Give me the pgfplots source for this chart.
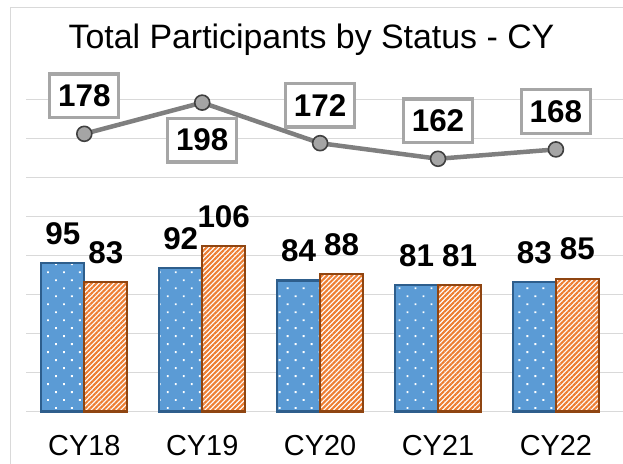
\documentclass[border=0pt]{standalone}
\usepackage{fontspec}
\setmainfont{Liberation Sans}
\usepackage{pgfplots}
\pgfplotsset{compat=1.18}
\usetikzlibrary{patterns.meta}
\definecolor{barblue}{HTML}{5B9BD5}
\definecolor{blueedge}{HTML}{2E5E8C}
\definecolor{barorange}{HTML}{ED7D31}
\definecolor{orangeedge}{HTML}{8F4511}
\definecolor{gridgray}{HTML}{D9D9D9}
\definecolor{linegray}{HTML}{7F7F7F}
\definecolor{markgray}{HTML}{A5A5A5}
\definecolor{markedge}{HTML}{404040}
\definecolor{boxgray}{HTML}{A6A6A6}
\definecolor{bordergray}{HTML}{D9D9D9}
\begin{document}
\begin{tikzpicture}
\useasboundingbox (0,0) rectangle (623bp,464bp);
\draw[bordergray, line width=1bp] (10.5bp,0) -- (10.5bp,456.5bp) -- (623bp,456.5bp);
\node[anchor=base, font=\fontsize{34}{40}\selectfont, inner sep=0pt] at (311.5bp,415bp) {Total Participants by Status - CY};
\begin{axis}[
  at={(26bp,52.5bp)}, anchor=south west,
  scale only axis, width=597bp, height=312bp,
  xmin=-0.4945, xmax=4.569,
  ymin=0, ymax=200,
  ytick={0,25,...,200}, yticklabels={},
  ymajorgrids, grid style={gridgray, line width=1.3bp},
  xtick={0,1,2,3,4}, xticklabels={CY18,CY19,CY20,CY21,CY22},
  major tick length=0pt,
  axis line style={draw=none},
  xticklabel style={font=\fontsize{29}{29}\selectfont, anchor=base, yshift=-44.2bp, inner sep=0pt},
  /pgf/number format/assume math mode=true,
  clip=false,
]
\addplot[ybar, bar width=43bp, bar shift=-21.5bp, draw=blueedge, line width=2.2bp,
  preaction={fill=barblue}, pattern={Dots[distance=11.3bp, angle=45, radius=1.3bp]}, pattern color=white,
  nodes near coords,
  every node near coord/.append style={font=\bfseries\fontsize{31.5}{32}\selectfont, text=black, anchor=south, inner sep=0pt, yshift=17.5bp, xshift=-21.5bp}]
  coordinates {(0,95)(1,92)(2,84)(3,81)(4,83)};
\addplot[ybar, bar width=43bp, bar shift=21.5bp, draw=orangeedge, line width=2.2bp,
  preaction={fill=white}, pattern={Lines[angle=45, distance=3.5bp, line width=2.1bp]}, pattern color=barorange,
  nodes near coords,
  every node near coord/.append style={font=\bfseries\fontsize{31.5}{32}\selectfont, text=black, anchor=south, inner sep=0pt, yshift=17.5bp, xshift=21.5bp}]
  coordinates {(0,83)(1,106)(2,88)(3,81)(4,85)};
\addplot[color=linegray, line width=4.5bp, mark=*, mark size=7.5bp,
  mark options={fill=markgray, draw=markedge, line width=1.6bp}]
  coordinates {(0,178)(1,198)(2,172)(3,162)(4,168)};
\addplot[draw=none, mark=none, nodes near coords,
  every node near coord/.append style={font=\bfseries\fontsize{31.5}{32}\selectfont, text=black, anchor=center,
    draw=boxgray, line width=3.3bp, fill=white, minimum width=69bp, minimum height=43.5bp, inner sep=0pt, yshift=38bp}]
  coordinates {(0,178)(2,172)(3,162)(4,168)};
\addplot[draw=none, mark=none, nodes near coords,
  every node near coord/.append style={font=\bfseries\fontsize{31.5}{32}\selectfont, text=black, anchor=center,
    draw=boxgray, line width=3.3bp, fill=white, minimum width=69bp, minimum height=43.5bp, inner sep=0pt, yshift=-37.5bp}]
  coordinates {(1,198)};
\end{axis}
\end{tikzpicture}
\end{document}
